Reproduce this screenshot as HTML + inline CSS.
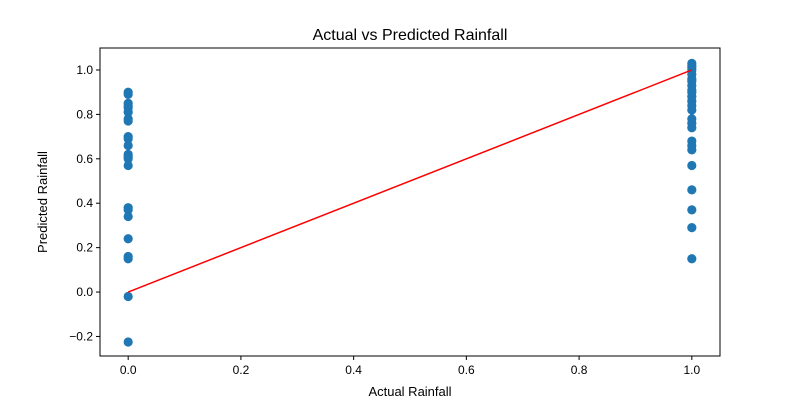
<!DOCTYPE html>
<html><head><meta charset="utf-8"><style>
body{margin:0;background:#fff}
svg text{font-family:"Liberation Sans","DejaVu Sans",sans-serif;fill:#000}
</style></head><body>
<svg id="chart" width="800" height="400" xmlns="http://www.w3.org/2000/svg">
<rect x="0" y="0" width="800" height="400" fill="#fff"/>
<g id="marks"></g>
<g id="axes"></g>
<text x="410" y="40" text-anchor="middle" font-size="16">Actual vs Predicted Rainfall</text>
<text x="410" y="396" text-anchor="middle" font-size="13">Actual Rainfall</text>
<text x="47" y="202" text-anchor="middle" font-size="13" transform="rotate(-90 47 202)">Predicted Rainfall</text>
</svg>
<script>
const actual0 = [0.90,0.89,0.85,0.84,0.83,0.81,0.78,0.77,0.70,0.69,0.66,0.62,0.61,0.60,0.57,0.38,0.37,0.34,0.24,0.16,0.15,-0.02,-0.225];
const actual1 = [1.03,1.02,1.01,1.00,0.98,0.96,0.95,0.93,0.91,0.90,0.88,0.86,0.84,0.82,0.78,0.76,0.74,0.68,0.66,0.64,0.57,0.46,0.37,0.29,0.15];
const xTicks = [0,0.2,0.4,0.6,0.8,1.0];
const yTicks = [-0.2,0,0.2,0.4,0.6,0.8,1.0];
const refLine = [0,1];

const L=100,R=720,T=48,B=356;
const xMin=-0.05,xMax=1.05,yMin=-0.288,yMax=1.099;
const sx=v=>L+(v-xMin)/(xMax-xMin)*(R-L);
const sy=v=>B-(v-yMin)/(yMax-yMin)*(B-T);
const NS="http://www.w3.org/2000/svg";
const marks=document.getElementById('marks');
const axes=document.getElementById('axes');
function mk(tag,attrs,parent){const e=document.createElementNS(NS,tag);for(const k in attrs)e.setAttribute(k,attrs[k]);parent.appendChild(e);return e;}

[[0,actual0],[1,actual1]].forEach(([xv,arr])=>{
  arr.forEach(v=>{
    const c=mk('circle',{cx:sx(xv),cy:sy(v),r:4.6,fill:'#1f77b4'},marks);
    
    
  });
});
const ln=mk('line',{x1:sx(refLine[0]),y1:sy(refLine[0]),x2:sx(refLine[1]),y2:sy(refLine[1]),stroke:'#ff0000','stroke-width':1.5},marks);



const frame=mk('rect',{x:L,y:T,width:R-L,height:B-T,fill:'none',stroke:'#000','stroke-width':1},axes);


xTicks.forEach(t=>{
  const x=sx(t);
  const tk=mk('line',{x1:x,y1:B,x2:x,y2:B+4,stroke:'#000'},axes);
  
  
  const tx=mk('text',{x:x,y:B+18,'text-anchor':'middle','font-size':12},axes);
  tx.textContent=t.toFixed(1);
  
  
});
yTicks.forEach(t=>{
  const y=sy(t);
  const tk=mk('line',{x1:L-4,y1:y,x2:L,y2:y,stroke:'#000'},axes);
  
  
  const tx=mk('text',{x:L-7,y:y+4,'text-anchor':'end','font-size':12},axes);
  tx.textContent=(t<0?'\u2212':'')+Math.abs(t).toFixed(1);
  
  
});
</script>
</body></html>
